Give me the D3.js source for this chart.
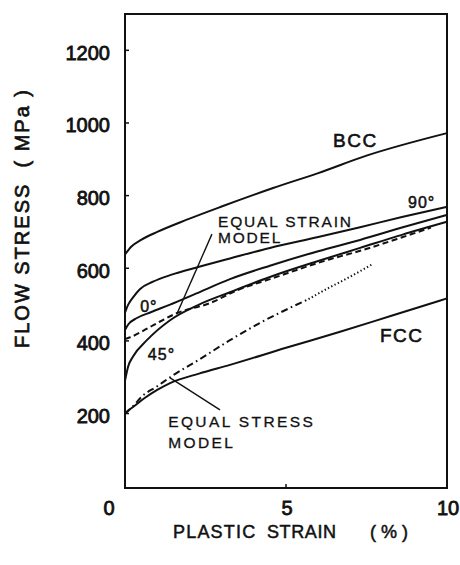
<!DOCTYPE html>
<html>
<head>
<meta charset="utf-8">
<script src="https://cdn.jsdelivr.net/npm/d3@7"></script>
<style>
  html, body { margin: 0; padding: 0; background: #fff; }
  svg { display: block; font-family: "Liberation Sans", Arial, sans-serif; }
  .curve { fill: none; stroke: #111; stroke-width: 2; stroke-linejoin: round; }
  text { fill: #111; stroke: #111; }
</style>
</head>
<body>
<svg id="chart" width="460" height="565"></svg>
<script>
// Flow stress vs plastic strain. [strain %, stress MPa]

// ---- Data ----
const bcc = [[0,638],[0.2,660],[0.5,678],[1,700],[1.9,733],[3,770],[4.6,821],[6,862],[7.5,910],[10,972]];
const deg90 = [[0,478],[0.1,500],[0.25,520],[0.47,543],[0.87,563],[1.4,581],[2.3,604],[3.26,627],[4.5,656],[6,686],[7.3,713],[8.6,741],[10,769]];
const deg0 = [[0,430],[0.1,445],[0.37,463],[0.8,479],[1.4,500],[2.2,530],[3.26,570],[4.5,607],[6,647],[7.3,678],[8.6,712],[10,747]];
const deg45 = [[0,290],[0.1,330],[0.25,357],[0.68,402],[1.4,457],[2.3,500],[3.26,534],[4.5,576],[6,620],[7.3,656],[8.6,692],[10,728]];
const equalStrain = [[0,405],[0.16,410],[0.87,443],[1.6,476],[2.64,504],[3.5,540],[4.5,570],[6.37,625],[7.3,648],[8.5,682],[9.5,712]];
const equalStress = [[0,200],[0.3,225],[0.5,245],[1,275],[1.4,300],[2.33,350],[3.26,402],[4.2,450],[5.1,490],[5.7,515]];
const equalStressExtrap = [[5.7,515],[6.37,548],[6.68,562],[7.7,612]];
const fcc = [[0,200],[0.1,208],[0.25,218],[0.6,242],[1,265],[1.4,284],[2.3,310],[3.26,334],[5,381],[6.68,425],[8.3,470],[10,517]];

const xTicks = [0, 5, 10];
const yTicks = [200, 400, 600, 800, 1000, 1200];

// curve labels in data units (strain, stress)
const curveLabels = [
  {text: 'BCC', s: 6.46, m: 934, cls: 'big'},
  {text: '90°', s: 8.79, m: 766, cls: 'deg'},
  {text: '0°', s: 0.47, m: 480, cls: 'deg'},
  {text: '45°', s: 0.71, m: 347, cls: 'deg'},
  {text: 'FCC', s: 7.92, m: 397, cls: 'big'},
  {text: 'EQUAL STRAIN', s: 2.89, m: 714, cls: 'model'},
  {text: 'MODEL', s: 2.89, m: 670, cls: 'model'},
  {text: 'EQUAL STRESS', s: 1.34, m: 163, cls: 'model2'},
  {text: 'MODEL', s: 1.34, m: 105, cls: 'model2'}
];
const leaders = [
  [[2.70, 694], [1.61, 474]],
  [[1.40, 298], [2.95, 210]]
];
const xTitleWords = [['PLASTIC', 173, 1.2], ['STRAIN', 267, 0.6], ['(%)', 370, 5]];

// ---- Layout ----
const svg = d3.select('#chart');
const x = d3.scaleLinear().domain([0, 10]).range([125, 447]);
const y = d3.scaleLinear().domain([-5, 1300]).range([488, 14]);

const line = d3.line()
  .x(d => x(d[0]))
  .y(d => y(d[1]))
  .curve(d3.curveMonotoneX);

// ---- Frame ----
svg.append('rect')
  .attr('x', x(0)).attr('y', y(1300))
  .attr('width', x(10) - x(0)).attr('height', y(-5) - y(1300))
  .attr('fill', 'none').attr('stroke', '#111').attr('stroke-width', 2);

// small inward ticks
svg.append('g').selectAll('line')
  .data(yTicks)
  .join('line')
  .attr('x1', x(0)).attr('x2', x(0) + 4)
  .attr('y1', d => y(d)).attr('y2', d => y(d))
  .attr('stroke', '#111').attr('stroke-width', 1.5);
svg.append('line')
  .attr('x1', x(5)).attr('x2', x(5))
  .attr('y1', y(-5)).attr('y2', y(-5) - 4)
  .attr('stroke', '#111').attr('stroke-width', 1.5);

// ---- Tick labels ----
svg.append('g').selectAll('text')
  .data(yTicks)
  .join('text')
  .attr('x', 110)
  .attr('y', d => y(d) + 9.5)
  .attr('text-anchor', 'end')
  .attr('font-size', 20)
  .attr('stroke-width', 0.8)
  .text(d => d);

svg.append('g').selectAll('text')
  .data(xTicks)
  .join('text')
  .attr('x', d => x(d) + (d === 0 ? -16 : 1))
  .attr('y', 515)
  .attr('text-anchor', 'middle')
  .attr('font-size', 20)
  .attr('stroke-width', 0.8)
  .text(d => d);

// ---- Axis titles ----
svg.append('text')
  .attr('transform', 'translate(29,218) rotate(-90)')
  .attr('text-anchor', 'middle')
  .attr('font-size', 20)
  .attr('stroke-width', 0.7)
  .attr('letter-spacing', 2)
  .style('white-space', 'pre')
  .text('FLOW STRESS  ( MPa )');

svg.append('text')
  .attr('y', 538)
  .attr('font-size', 18)
  .attr('stroke-width', 0.5)
  .selectAll('tspan')
  .data(xTitleWords)
  .join('tspan')
  .attr('x', d => d[1])
  .attr('letter-spacing', d => d[2])
  .text(d => d[0]);

// ---- Curves ----
const solid = [bcc, deg90, deg0, deg45, fcc];
svg.append('g').selectAll('path')
  .data(solid)
  .join('path')
  .attr('class', 'curve')
  .attr('d', line);

svg.append('path').datum(equalStrain)
  .attr('class', 'curve')
  .attr('stroke-width', 1.8)
  .attr('stroke-dasharray', '6,3.5')
  .attr('d', line);

svg.append('path').datum(equalStress)
  .attr('class', 'curve')
  .attr('stroke-width', 1.8)
  .attr('stroke-dasharray', '7,3.5,1.6,3.5')
  .attr('d', line);

svg.append('path').datum(equalStressExtrap)
  .attr('class', 'curve')
  .attr('stroke-width', 1.4)
  .attr('stroke-dasharray', '1.3,2.4')
  .attr('d', line);

// ---- Leader lines ----
svg.append('g').selectAll('line')
  .data(leaders)
  .join('line')
  .attr('x1', d => x(d[0][0])).attr('y1', d => y(d[0][1]))
  .attr('x2', d => x(d[1][0])).attr('y2', d => y(d[1][1]))
  .attr('stroke', '#111').attr('stroke-width', 1.4);

// ---- Curve labels ----
const fontFor = {big: 19, deg: 16, model: 15.5, model2: 15.5};
const spacingFor = {big: 1.5, deg: 1, model: 1.8, model2: 2.4};
const weightFor = {big: 0.6, deg: 0.5, model: 0.3, model2: 0.3};
svg.append('g').selectAll('text')
  .data(curveLabels)
  .join('text')
  .attr('x', d => x(d.s))
  .attr('y', d => y(d.m))
  .attr('font-size', d => fontFor[d.cls])
  .attr('letter-spacing', d => spacingFor[d.cls])
  .attr('stroke-width', d => weightFor[d.cls])
  .text(d => d.text);
</script>
</body>
</html>
